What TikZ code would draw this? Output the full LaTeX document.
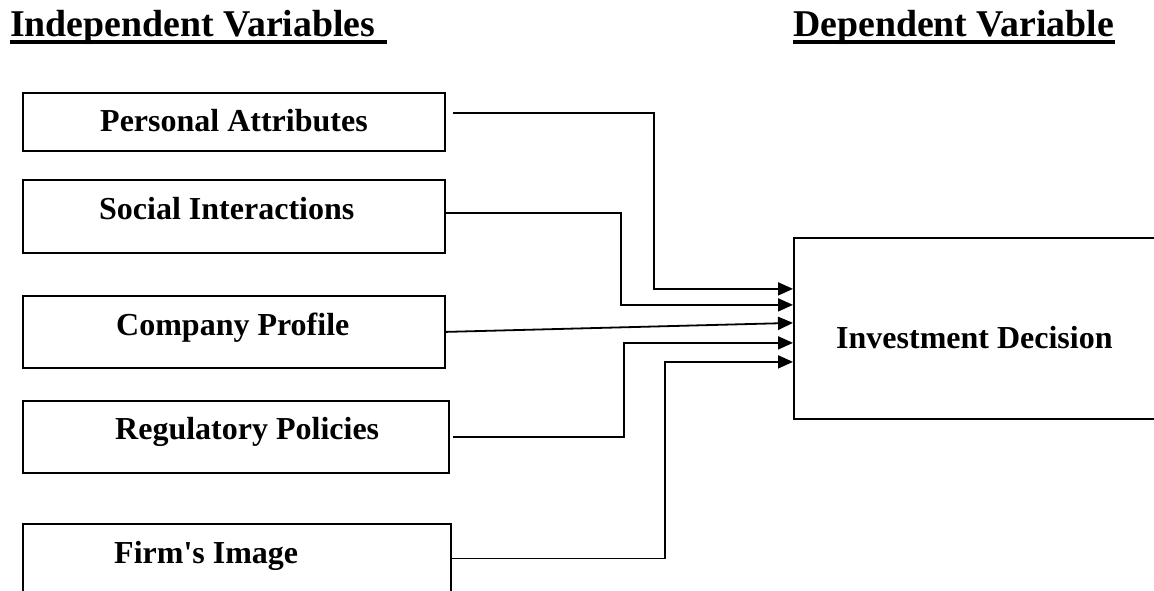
\documentclass[tikz,border=0pt]{standalone}
\usepackage{fontspec}
\setmainfont{Liberation Serif}
\usetikzlibrary{arrows.meta}
\begin{document}
\begin{tikzpicture}[x=1pt,y=-1pt,
  box/.style={draw,line width=1.8pt,rectangle,inner sep=0pt,anchor=north west},
  lbl/.style={inner sep=0pt,anchor=base west,font=\fontsize{32}{38}\selectfont\bfseries},
  head/.style={inner sep=0pt,anchor=base west,font=\fontsize{37.8}{44}\selectfont\bfseries},
  arr/.style={line width=1.8pt,-{Triangle[length=15pt,width=13pt]}},
  uline/.style={line width=3.5pt}]
\useasboundingbox (0,0) rectangle (1154,591);
\clip (0,0) rectangle (1154,591);
\fill[white] (0,0) rectangle (1154,591);
% headings
\node[head] (h1) at (10,36.5) {Independent Variables};
\node[head] (h2) at (793,36.5) {Dependent Variable};
\draw[uline] ([yshift=-5.5pt]h1.base west) -- ([yshift=-5.5pt,xshift=11pt]h1.base east);
\draw[uline] ([yshift=-5.5pt]h2.base west) -- ([yshift=-5.5pt,xshift=1pt]h2.base east);
% boxes
\node[box,minimum width=422pt,minimum height=58pt] (pa) at (22,92) {};
\node[box,minimum width=422pt,minimum height=73pt] (si) at (22,179) {};
\node[box,minimum width=422pt,minimum height=72pt] (cp) at (22,295) {};
\node[box,minimum width=426pt,minimum height=72pt] (rp) at (22,400) {};
\node[box,minimum width=428pt,minimum height=80pt] (fi) at (22,523) {};
\node[box,minimum width=380pt,minimum height=181pt] (id) at (793,237) {};
% labels
\node[lbl] (tpa) at (100,132) {Personal Attributes};
\node[lbl] (tsi) at (99,219) {Social Interactions};
\node[lbl] (tcp) at (116,335) {Company Profile};
\node[lbl] (trp) at (115,439) {Regulatory Policies};
\node[lbl] (tfi) at (114,563) {Firm\textquotesingle s Image};
\node[lbl] (tid) at (836,348) {Investment Decision};
% connector ends
\coordinate (s1) at ([xshift=7pt,yshift=9pt]pa.east);
\coordinate (s2) at ([yshift=3.5pt]si.east);
\coordinate (s4) at ([xshift=3pt]rp.east);
\coordinate (s5) at ([yshift=5.5pt]fi.east);
\coordinate (t1) at ([yshift=39.5pt]id.west);
\coordinate (t2) at ([yshift=23.5pt]id.west);
\coordinate (t3) at ([yshift=5.5pt]id.west);
\coordinate (t4) at ([yshift=-14.5pt]id.west);
\coordinate (t5) at ([yshift=-33.5pt]id.west);
% connectors
\draw[arr] (s1) -- ++(201,0) |- (t1);
\draw[arr] (s2) -- ++(175,0) |- (t2);
\draw[arr] (cp.east) -- (t3);
\draw[arr] (s4) -- ++(171,0) |- (t4);
\draw[arr] (s5) -- ++(213,0) |- (t5);
\end{tikzpicture}
\end{document}
